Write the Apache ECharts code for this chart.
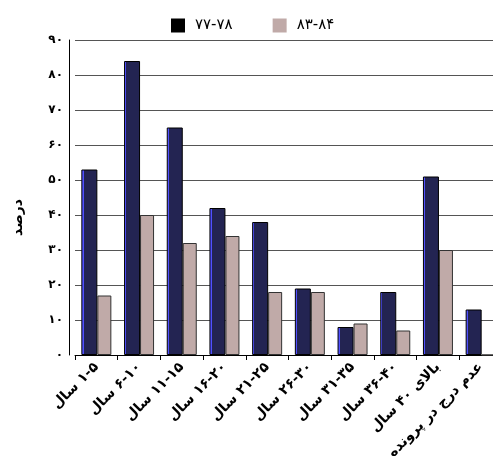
<!DOCTYPE html>
<html lang="fa">
<head>
  <meta charset="UTF-8">
  <title>درصد</title>
  <style>
    body {
      margin: 0;
      background: #fff;
    }

    #main {
      width: 493px;
      height: 456px;
    }
  </style>
</head>
<body>
<div id="main"></div>
<script src="https://cdn.jsdelivr.net/npm/echarts@6/dist/echarts.min.js"></script>
<script>
  // گروه‌های سنی
  let categories = ['۱-۵ سال', '۶-۱۰ سال', '۱۱-۱۵ سال', '۱۶-۲۰ سال', '۲۱-۲۵ سال',
    '۲۶-۳۰ سال', '۳۱-۳۵ سال', '۳۶-۴۰ سال', 'بالای ۴۰ سال', 'عدم درج در پرونده'];
  let seriesNames = ['۷۷-۷۸', '۸۳-۸۴'];
  let values7778 = [53, 84, 65, 42, 38, 19, 8, 18, 51, 13];
  let values8384 = [17, 40, 32, 34, 18, 18, 9, 7, 30, 0];
  let yTicks = [0, 10, 20, 30, 40, 50, 60, 70, 80, 90];

  const faDigits = '۰۱۲۳۴۵۶۷۸۹';
  function toFa(n) {
    return String(n).replace(/[0-9]/g, d => faDigits[d]);
  }
  // متن راست به چپ روی canvas
  function rtl(s) {
    return '\u202B' + s + '\u202C';
  }

  const font = 'DejaVu Sans';
  let chart = echarts.init(document.getElementById('main'));

  let option = {
    animation: false,
    legend: {
      left: 166,
      top: 13,
      icon: 'rect',
      itemWidth: 14,
      itemHeight: 14,
      itemGap: 40,
      data: [
        {name: seriesNames[0], itemStyle: {color: '#000', borderWidth: 0}},
        {name: seriesNames[1], itemStyle: {color: '#c0aaa8', borderWidth: 0}}
      ],
      textStyle: {
        fontFamily: font,
        fontSize: 15,
        color: '#000',
        padding: [0, 0, 0, 5]
      }
    },
    grid: {
      left: 75,
      right: -9,
      top: 40,
      bottom: 101,
      outerBoundsMode: 'none'
    },
    xAxis: {
      type: 'category',
      data: categories,
      axisLine: {lineStyle: {color: '#000', width: 1}},
      axisTick: {show: true, length: 5, lineStyle: {color: '#000'}},
      axisLabel: {
        interval: 0,
        rotate: 45,
        margin: 10,
        fontFamily: font,
        fontWeight: 'bold',
        fontSize: 14,
        color: '#000',
        formatter: v => rtl(v)
      }
    },
    yAxis: {
      type: 'value',
      min: yTicks[0],
      max: yTicks[yTicks.length - 1],
      interval: 10,
      offset: 6,
      name: rtl('درصد'),
      nameLocation: 'middle',
      nameRotate: 90,
      nameGap: 44,
      nameTextStyle: {
        fontFamily: font,
        fontWeight: 'bold',
        fontSize: 14,
        color: '#000',
        padding: [0, 40, 0, 0]
      },
      axisLine: {show: true, lineStyle: {color: '#000'}},
      axisTick: {show: false},
      splitLine: {lineStyle: {color: '#555', width: 1}},
      axisLabel: {
        margin: 6,
        fontFamily: font,
        fontWeight: 'bold',
        fontSize: 12,
        color: '#000',
        formatter: v => toFa(v)
      }
    },
    series: [
      {
        name: seriesNames[0],
        type: 'bar',
        data: values7778,
        barWidth: 16,
        barGap: '0%',
        itemStyle: {
          borderColor: '#000',
          borderWidth: 1,
          color: new echarts.graphic.LinearGradient(0, 0, 1, 0, [
            {offset: 0, color: '#5050ff'},
            {offset: 0.14, color: '#5050ff'},
            {offset: 0.14, color: '#232452'},
            {offset: 1, color: '#232452'}
          ])
        }
      },
      {
        name: seriesNames[1],
        type: 'bar',
        data: values8384,
        barWidth: 14,
        barGap: '0%',
        itemStyle: {
          color: '#c0aaa8',
          borderColor: '#333',
          borderWidth: 1
        }
      }
    ]
  };

  chart.setOption(option);
</script>
</body>
</html>
